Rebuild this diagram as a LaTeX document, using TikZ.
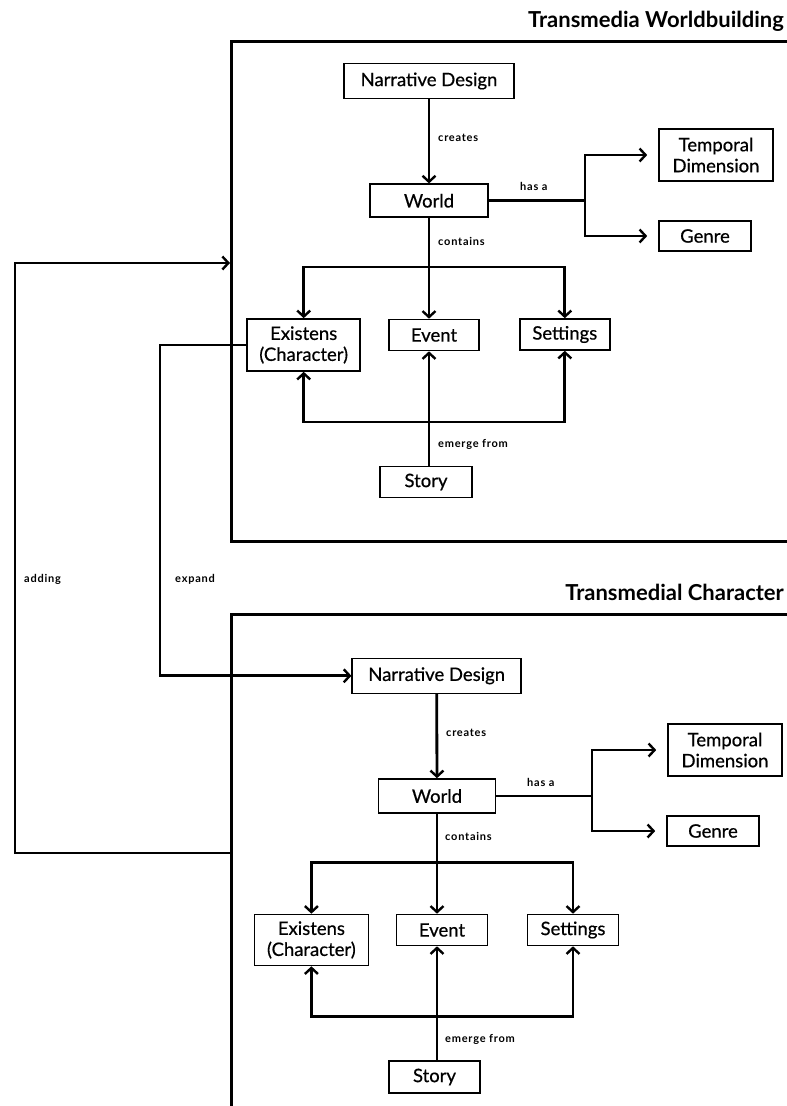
\documentclass[tikz,border=0pt]{standalone}
\usepackage{fontspec}
\setmainfont{Lato}
\newfontfamily\nodefont[FakeBold=0.6]{Lato}
\newfontfamily\labfont[LetterSpace=7]{Lato Bold}
\usetikzlibrary{arrows.meta}
\begin{document}
\begin{tikzpicture}[x=1pt,y=-1pt,
  box/.style={draw, line width=1.6pt, align=center, inner sep=0pt, font=\nodefont\fontsize{18.5}{21}\selectfont},
  conn/.style={line width=2.8pt},
  arr/.style={conn, -{Straight Barb[length=6pt,width=13pt,line width=2.4pt]}},
  lab/.style={anchor=west, font=\labfont\fontsize{11}{13}\selectfont, inner sep=0pt},
  ttl/.style={anchor=east, font=\bfseries\fontsize{22}{26}\selectfont, inner sep=0pt},
  frame/.style={draw, line width=2.8pt, anchor=north west, inner sep=0pt}]
\useasboundingbox (0,0) rectangle (787,1106);
\clip (0,0) rectangle (787,1106);

% frames
\node[frame, minimum width=620pt, minimum height=500pt] (fA) at (230,40) {};
\node[frame, minimum width=620pt, minimum height=600pt] (fB) at (230,613) {};
\node[ttl] (tA) at (784,21.7) {Transmedia Worldbuilding};
\node[ttl] (tB) at (784,592.7) {Transmedial Character};

% ---- top diagram
\node[box, minimum width=170pt, minimum height=35pt] (nd1) at (429,81) {Narrative Design};
\node[box, minimum width=118pt, minimum height=33pt] (w1) at (429,200.7) {World};
\node[box, minimum width=114pt, minimum height=52pt] (td1) at (716,155) {Temporal\\Dimension};
\node[box, minimum width=92pt, minimum height=30pt] (g1) at (705,236) {Genre};
\node[box, minimum width=113pt, minimum height=52pt] (ex1) at (303.7,345) {Existens\\(Character)};
\node[box, minimum width=90pt, minimum height=31pt] (ev1) at (434,335) {Event};
\node[box, minimum width=90pt, minimum height=31pt] (se1) at (564.8,334.5) {Settings};
\node[box, minimum width=92pt, minimum height=31pt] (st1) at (426,482) {Story};

\draw[arr] (nd1) -- (w1);
\node[lab] (l1) at (438,137.7) {creates};
\coordinate (b1) at (585,200.7);
\draw[conn] (w1.east) -- (b1);
\draw[arr, shorten >=11pt] (b1) |- (td1.west);
\draw[arr, shorten >=11pt] (b1) |- (g1.west);
\node[lab] (l2) at (520,186.7) {has a};
\coordinate (bar1) at (0,267);
\coordinate (bar2) at (0,422);
\draw[arr] (w1.south) -- (w1.south |- ev1.north);
\draw[arr] (w1.south |- bar1) -| (ex1.north);
\draw[arr] (w1.south |- bar1) -| (se1.north);
\node[lab] (l3) at (438,241.7) {contains};
\draw[arr] (w1.south |- st1.north) -- (w1.south |- ev1.south);
\draw[arr] (w1.south |- bar2) -| (ex1.south);
\draw[arr] (w1.south |- bar2) -| (se1.south);
\node[lab] (l4) at (438,444.3) {emerge from};

% ---- bottom diagram
\node[box, minimum width=169pt, minimum height=35pt] (nd2) at (436.7,675.8) {Narrative Design};
\node[box, minimum width=117pt, minimum height=34pt] (w2) at (437,796) {World};
\node[box, minimum width=114pt, minimum height=52pt] (td2) at (725,750) {Temporal\\Dimension};
\node[box, minimum width=92pt, minimum height=30pt] (g2) at (713,831) {Genre};
\node[box, minimum width=114pt, minimum height=51pt] (ex2) at (311.4,940) {Existens\\(Character)};
\node[box, minimum width=91pt, minimum height=31pt] (ev2) at (442,930) {Event};
\node[box, minimum width=91pt, minimum height=31pt] (se2) at (573,930) {Settings};
\node[box, minimum width=91pt, minimum height=32pt] (st2) at (434.5,1077) {Story};

\draw[arr] (nd2) -- (w2);
\node[lab] (m1) at (446,732.7) {creates};
\coordinate (b2) at (592,796);
\draw[conn] (w2.east) -- (b2);
\draw[arr, shorten >=11pt] (b2) |- (td2.west);
\draw[arr, shorten >=11pt] (b2) |- (g2.west);
\node[lab] (m2) at (527,782.3) {has a};
\coordinate (bar3) at (0,862.7);
\coordinate (bar4) at (0,1016.7);
\draw[arr] (w2.south) -- (w2.south |- ev2.north);
\draw[arr] (w2.south |- bar3) -| (ex2.north);
\draw[arr] (w2.south |- bar3) -| (se2.north);
\node[lab] (m3) at (445,836.7) {contains};
\draw[arr] (w2.south |- st2.north) -- (w2.south |- ev2.south);
\draw[arr] (w2.south |- bar4) -| (ex2.south);
\draw[arr] (w2.south |- bar4) -| (se2.south);
\node[lab] (m4) at (445,1039.3) {emerge from};

% ---- cross connectors
\draw[arr] (ex1.west) -- ++(-86.4,0) |- (nd2.west);
\node[lab] (lx) at (175,579.3) {expand};
\coordinate (addS) at (230,853);
\coordinate (addE) at (230,263);
\draw[arr] (addS) -- (15,853) -- (15,263) -- (addE);
\node[lab] (la) at (24,579.3) {adding};
\end{tikzpicture}
\end{document}
